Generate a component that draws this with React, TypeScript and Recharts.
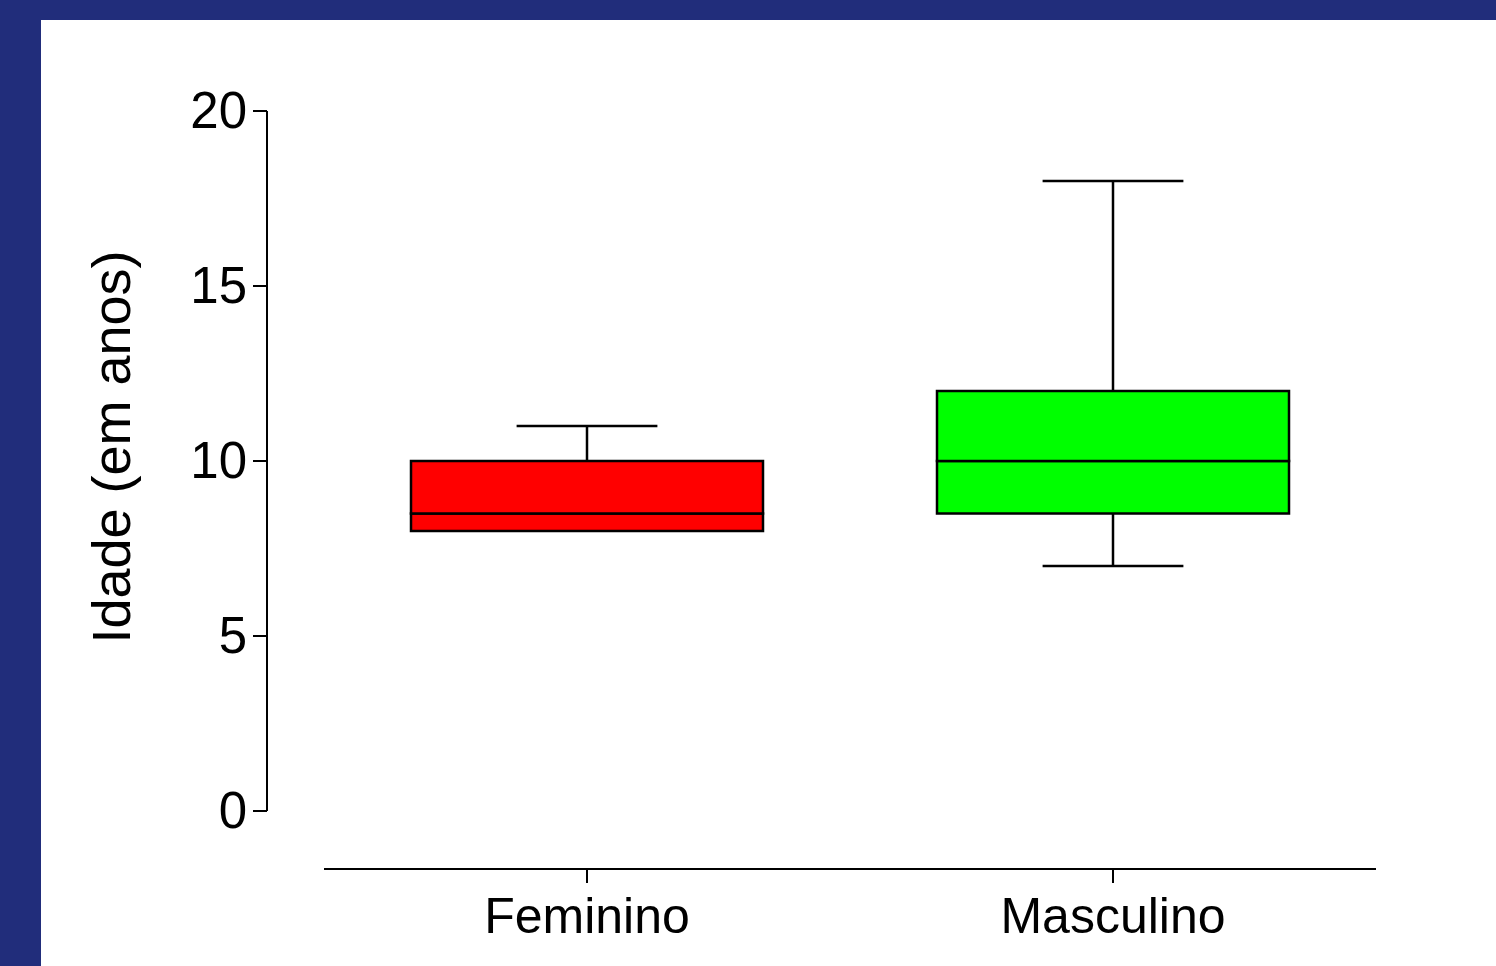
import { ComposedChart, Bar, XAxis, YAxis } from 'recharts';

// age summary per sex: min, quartiles, median, max
const groups = ['Feminino', 'Masculino'];
const mins = [8, 7];
const q1s = [8, 8.5];
const medians = [8.5, 10];
const q3s = [10, 12];
const maxs = [11, 18];
const boxColors = ['#ff0000', '#00ff00'];
const yTicks = [0, 5, 10, 15, 20];

const data = groups.map((group, i) => ({
  group,
  boxColor: boxColors[i],
  base: mins[i],
  lowWhisker: q1s[i] - mins[i],
  lowBox: medians[i] - q1s[i],
  highBox: q3s[i] - medians[i],
  highWhisker: maxs[i] - q3s[i],
}));

const FONT = '"Liberation Sans", Arial, sans-serif';
const AXIS_GAP = 57; // axes sit detached from the plot area

const WhiskerShape = (props: any, capOnTop: boolean) => {
  const { x, y, width, height } = props;
  if (!height || height <= 0) return <g />;
  const cx = x + width / 2;
  const cap = width * 0.2;
  const capY = capOnTop ? y : y + height;
  return (
    <g stroke="#000" strokeWidth={2.5}>
      <line x1={cx} x2={cx} y1={y} y2={y + height} />
      <line x1={cx - cap} x2={cx + cap} y1={capY} y2={capY} />
    </g>
  );
};

const BoxShape = (props: any) => {
  const { x, y, width, height, payload } = props;
  if (!height || height <= 0) return <g />;
  return <rect x={x} y={y} width={width} height={height} fill={payload.boxColor} stroke="#000" strokeWidth={2.5} />;
};

const YTick = (props: any) => {
  const { x, y, payload } = props;
  return (
    <g>
      <line x1={x - AXIS_GAP - 14} x2={x - AXIS_GAP} y1={y} y2={y} stroke="#000" strokeWidth={2} />
      <text x={x - AXIS_GAP - 20} y={y + 17} textAnchor="end" fontSize={51} fontFamily={FONT} fill="#000">
        {payload.value}
      </text>
    </g>
  );
};

const XTick = (props: any) => {
  const { x, y, payload } = props;
  return (
    <g>
      <line x1={x} x2={x} y1={y + AXIS_GAP + 1} y2={y + AXIS_GAP + 15} stroke="#000" strokeWidth={2} />
      <text x={x} y={y + 122} textAnchor="middle" fontSize={50} fontFamily={FONT} fill="#000">
        {payload.value}
      </text>
    </g>
  );
};

const YLabel = (props: any) => {
  const { viewBox } = props;
  const x = viewBox.x + 130;
  const y = viewBox.y + viewBox.height / 2 - 14;
  return (
    <text
      x={x}
      y={y}
      transform={`rotate(-90 ${x} ${y})`}
      textAnchor="middle"
      fontSize={54}
      fontFamily={FONT}
      fill="#000"
    >
      Idade (em anos)
    </text>
  );
};

export default function App() {
  return (
    <div style={{ position: 'absolute', left: 0, top: 0, width: 1496, height: 966, background: '#212d7b' }}>
      <div style={{ position: 'absolute', left: 41, top: 20, right: 0, bottom: 0, background: '#fff' }} />
      <div style={{ position: 'absolute', left: 0, top: 0 }}>
        <ComposedChart
          width={1496}
          height={966}
          data={data}
          margin={{ top: 111, right: 120, bottom: 0, left: 0 }}
          barCategoryGap={87}
        >
          <XAxis
            dataKey="group"
            height={155}
            tickSize={0}
            tickMargin={0}
            tickLine={false}
            axisLine={{ stroke: '#000', strokeWidth: 2, transform: `translate(0 ${AXIS_GAP + 1})` }}
            tick={<XTick />}
            interval={0}
          />
          <YAxis
            width={324}
            domain={[0, 20]}
            ticks={yTicks}
            tickSize={0}
            tickMargin={0}
            tickLine={false}
            axisLine={{ stroke: '#000', strokeWidth: 2, transform: `translate(${-AXIS_GAP} 0)` }}
            tick={<YTick />}
            label={<YLabel />}
          />
          {/* invisible offset from 0 up to the minimum */}
          <Bar dataKey="base" stackId="box" isAnimationActive={false} shape={() => <g />} />
          <Bar dataKey="lowWhisker" stackId="box" isAnimationActive={false} shape={(p: any) => WhiskerShape(p, false)} />
          <Bar dataKey="lowBox" stackId="box" isAnimationActive={false} shape={BoxShape} />
          <Bar dataKey="highBox" stackId="box" isAnimationActive={false} shape={BoxShape} />
          <Bar dataKey="highWhisker" stackId="box" isAnimationActive={false} shape={(p: any) => WhiskerShape(p, true)} />
        </ComposedChart>
      </div>
    </div>
  );
}
